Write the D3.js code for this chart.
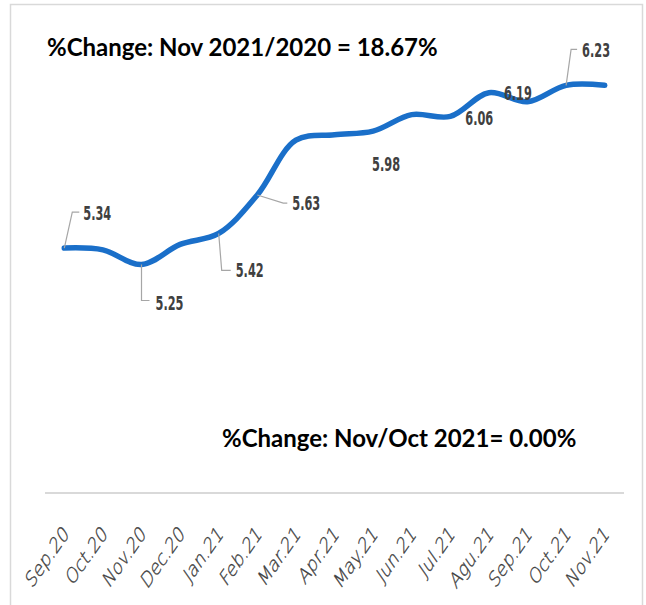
<!DOCTYPE html>
<html>
<head>
<meta charset="utf-8">
<script src="https://cdn.jsdelivr.net/npm/d3@7"></script>
<style>
  body { margin: 0; background: #fff; }
  svg { display: block; }
</style>
</head>
<body>
<svg id="chart" width="646" height="605"></svg>
<script>
// Price chart, Sep.20 - Nov.21

var months = ["Sep.20", "Oct.20", "Nov.20", "Dec.20", "Jan.21", "Feb.21", "Mar.21",
              "Apr.21", "May.21", "Jun.21", "Jul.21", "Agu.21", "Sep.21", "Oct.21", "Nov.21"];
var prices = [5.34, 5.33, 5.25, 5.36, 5.42, 5.63, 5.93, 5.96, 5.98, 6.07, 6.06, 6.19, 6.14, 6.23, 6.23];
var labelled = ["Sep.20", "Nov.20", "Jan.21", "Feb.21", "May.21", "Jul.21", "Agu.21", "Oct.21"];
var yDomain = [4, 6.5];
var titleYear = "%Change: Nov 2021/2020 = 18.67%";
var titleMonth = "%Change: Nov/Oct 2021= 0.00%";

// where each data label sits relative to its point (and its leader line, if any)
var labelLayout = {
  "Sep.20": { dx: 19, dy: -28, leader: [[0, 0], [8, -36], [15, -36]] },
  "Nov.20": { dx: 14, dy: 45, leader: [[0, 0], [0, 36], [8, 36]] },
  "Jan.21": { dx: 17, dy: 44, leader: [[0, 0], [3, 37], [12, 37]] },
  "Feb.21": { dx: 35, dy: 15, leader: [[0, 0], [26, 8], [30, 8]] },
  "May.21": { dx: -1, dy: 40 },
  "Jul.21": { dx: 15, dy: 9 },
  "Agu.21": { dx: 15, dy: 7 },
  "Oct.21": { dx: 16, dy: -28, leader: [[0, 0], [5, -36], [11, -36]] }
};

var svg = d3.select("#chart");

// chart frame
svg.append("rect")
  .attr("x", 10.5).attr("y", 4.5)
  .attr("width", 632).attr("height", 640)
  .attr("fill", "#fff")
  .attr("stroke", "#d9d9d9")
  .attr("stroke-width", 1.5);

var x = d3.scalePoint().domain(months).range([45, 624]).padding(0.5);
var y = d3.scaleLinear().domain(yDomain).range([493, 36]);

// category axis
var xAxis = svg.append("g")
  .attr("transform", "translate(0,493)")
  .call(d3.axisBottom(x).tickSize(0).tickPadding(0));
xAxis.select(".domain")
  .attr("d", "M45,0H624")
  .attr("stroke", "#d9d9d9")
  .attr("stroke-width", 2);
xAxis.selectAll(".tick text")
  .attr("y", 0).attr("dy", 0)
  .attr("text-anchor", "end")
  .attr("transform", "translate(5,42) scale(0.7,1) rotate(-45)")
  .attr("fill", "#404040")
  .attr("stroke", "#404040")
  .attr("stroke-width", 0.4)
  .style("font-family", "'DejaVu Sans', sans-serif")
  .style("font-weight", 200)
  .style("font-size", "22px");

// smoothed price line
var line = d3.line()
  .x(function (d, i) { return x(months[i]); })
  .y(function (d) { return y(d); })
  .curve(d3.curveCatmullRom.alpha(0.5));

svg.append("path")
  .datum(prices)
  .attr("d", line)
  .attr("fill", "none")
  .attr("stroke", "#1a6fc9")
  .attr("stroke-width", 5.5)
  .attr("stroke-linecap", "round")
  .attr("stroke-linejoin", "round");

// data labels + leader lines
var fmt = d3.format(".2f");
var labelData = labelled.map(function (m) {
  var i = months.indexOf(m);
  return { month: m, value: prices[i], px: x(m), py: y(prices[i]), lay: labelLayout[m] };
});

svg.append("g").selectAll("path")
  .data(labelData.filter(function (d) { return d.lay.leader; }))
  .join("path")
  .attr("d", function (d) {
    return d3.line()(d.lay.leader.map(function (p) { return [d.px + p[0], d.py + p[1]]; }));
  })
  .attr("fill", "none")
  .attr("stroke", "#a6a6a6")
  .attr("stroke-width", 1.2);

svg.append("g").selectAll("text")
  .data(labelData)
  .join("text")
  .attr("transform", function (d) {
    return "translate(" + (d.px + d.lay.dx) + "," + (d.py + d.lay.dy) + ") scale(0.63,1)";
  })
  .text(function (d) { return fmt(d.value); })
  .attr("fill", "#404040")
  .style("font-family", "'DejaVu Sans Condensed', 'DejaVu Sans', sans-serif")
  .style("font-weight", "bold")
  .style("font-size", "20px");

// the two change notes
svg.append("text")
  .attr("x", 47).attr("y", 56)
  .text(titleYear)
  .attr("fill", "#000")
  .style("font-family", "Lato, sans-serif")
  .style("font-weight", "bold")
  .style("font-size", "24px");

svg.append("text")
  .attr("x", 222).attr("y", 447)
  .text(titleMonth)
  .attr("fill", "#000")
  .style("font-family", "Lato, sans-serif")
  .style("font-weight", "bold")
  .style("font-size", "24px");
</script>
</body>
</html>
